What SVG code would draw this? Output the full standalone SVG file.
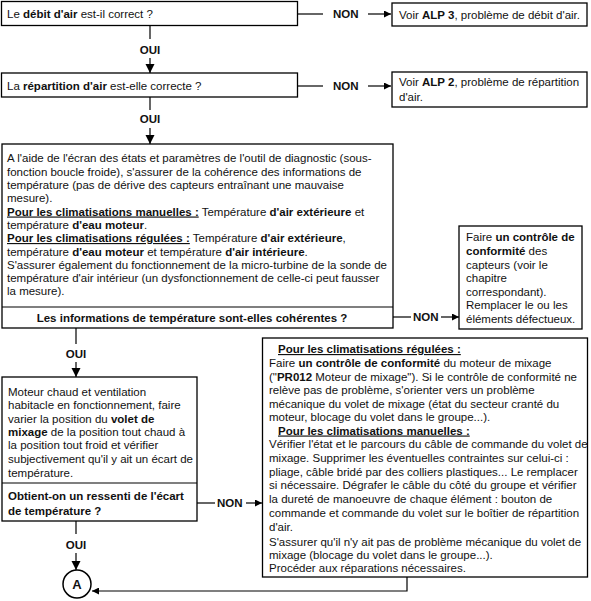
<svg xmlns="http://www.w3.org/2000/svg" width="591" height="601" viewBox="0 0 591 601">
<defs>
<style>
text{font-family:"Liberation Sans",Arial,sans-serif;font-size:11.5px;fill:#111}
.b{font-weight:bold}
.u{text-decoration:underline}
.box{fill:#fff;stroke:#000;stroke-width:1.3}
.ln{stroke:#000;stroke-width:1.2;fill:none}
.lbl{font-weight:bold;font-size:11.5px}
.mid{text-anchor:middle}
</style>
<marker id="av" markerUnits="userSpaceOnUse" markerWidth="9" markerHeight="11" refX="9" refY="4.5" orient="auto" viewBox="0 0 9 9"><path d="M0,0 L9,4.5 L0,9 z" fill="#000"/></marker>
<marker id="ah" markerUnits="userSpaceOnUse" markerWidth="7" markerHeight="7" refX="7" refY="3.5" orient="auto" viewBox="0 0 7 7"><path d="M0,0 L7,3.5 L0,7 z" fill="#000"/></marker>
</defs>
<rect width="591" height="601" fill="#fff"/>

<g id="connectors">
<line class="ln" x1="298" y1="14" x2="323" y2="14"/>
<text class="lbl" x="333" y="18">NON</text>
<line class="ln" x1="368" y1="14" x2="391" y2="14" marker-end="url(#ah)"/>
<line class="ln" x1="150" y1="25" x2="150" y2="39"/>
<text class="lbl mid" x="150" y="54">OUI</text>
<line class="ln" x1="150" y1="58" x2="150" y2="73" marker-end="url(#av)"/>
<line class="ln" x1="298" y1="86" x2="323" y2="86"/>
<text class="lbl" x="333" y="90">NON</text>
<line class="ln" x1="368" y1="86" x2="391" y2="86" marker-end="url(#ah)"/>
<line class="ln" x1="150" y1="97" x2="150" y2="110"/>
<text class="lbl mid" x="150" y="123">OUI</text>
<line class="ln" x1="150" y1="128" x2="150" y2="144" marker-end="url(#av)"/>
<line class="ln" x1="393" y1="317" x2="411" y2="317"/>
<text class="lbl" x="413" y="321">NON</text>
<line class="ln" x1="441" y1="317" x2="459" y2="317" marker-end="url(#ah)"/>
<line class="ln" x1="76" y1="328" x2="76" y2="344"/>
<text class="lbl mid" x="76" y="358">OUI</text>
<line class="ln" x1="76" y1="362" x2="76" y2="377" marker-end="url(#av)"/>
<line class="ln" x1="197" y1="503" x2="215" y2="503"/>
<text class="lbl" x="217" y="507">NON</text>
<line class="ln" x1="246" y1="503" x2="262" y2="503" marker-end="url(#ah)"/>
<line class="ln" x1="76" y1="521" x2="76" y2="534"/>
<text class="lbl mid" x="76" y="549">OUI</text>
<line class="ln" x1="76" y1="553" x2="76" y2="570" marker-end="url(#av)"/>
<polyline class="ln" points="407,577 407,591 92,591" marker-end="url(#ah)"/>
</g>

<g id="q-debit">
<rect class="box" x="1.5" y="1.5" width="296" height="24"/>
<text x="7" y="18">Le <tspan class="b">débit d'air</tspan> est-il correct ?</text>
</g>

<g id="alp3">
<rect class="box" x="392" y="3" width="195" height="23"/>
<text x="399" y="19">Voir <tspan class="b">ALP 3</tspan>, problème de débit d'air.</text>
</g>

<g id="q-repartition">
<rect class="box" x="1.5" y="73" width="296" height="24"/>
<text x="7" y="90">La <tspan class="b">répartition d'air</tspan> est-elle correcte ?</text>
</g>

<g id="alp2">
<rect class="box" x="392" y="72" width="195" height="35"/>
<text x="399" y="86">Voir <tspan class="b">ALP 2</tspan>, problème de répartition</text>
<text x="399" y="101">d'air.</text>
</g>

<g id="info-temp">
<rect class="box" x="2" y="144" width="391" height="184"/>
<line class="ln" x1="2" y1="307" x2="393" y2="307"/>
<text x="7" y="162">A l'aide de l'écran des états et paramètres de l'outil de diagnostic (sous-</text>
<text x="7" y="175.5">fonction boucle froide), s'assurer de la cohérence des informations de</text>
<text x="7" y="189">température (pas de dérive des capteurs entraînant une mauvaise</text>
<text x="7" y="202">mesure).</text>
<text x="7" y="215.5"><tspan class="b u">Pour les climatisations manuelles :</tspan> Température <tspan class="b">d'air extérieure</tspan> et</text>
<text x="7" y="229">température <tspan class="b">d'eau moteur</tspan>.</text>
<text x="7" y="242"><tspan class="b u">Pour les climatisations régulées :</tspan> Température <tspan class="b">d'air extérieure</tspan>,</text>
<text x="7" y="255.5">température <tspan class="b">d'eau moteur</tspan> et température <tspan class="b">d'air intérieure</tspan>.</text>
<text x="7" y="268.5">S'assurer également du fonctionnement de la micro-turbine de la sonde de</text>
<text x="7" y="281.5">température d'air intérieur (un dysfonctionnement de celle-ci peut fausser</text>
<text x="7" y="294.5">la mesure).</text>
<text class="b mid" x="192" y="322">Les informations de température sont-elles cohérentes ?</text>
</g>

<g id="controle-capteurs">
<rect class="box" x="459" y="226" width="123" height="103"/>
<text x="466" y="241">Faire <tspan class="b">un contrôle de</tspan></text>
<text x="466" y="255"><tspan class="b">conformité</tspan> des</text>
<text x="466" y="269">capteurs (voir le</text>
<text x="466" y="282">chapitre</text>
<text x="466" y="296">correspondant).</text>
<text x="466" y="309">Remplacer le ou les</text>
<text x="466" y="323">éléments défectueux.</text>
</g>

<g id="volet-mixage">
<rect class="box" x="2" y="377" width="195" height="144"/>
<line class="ln" x1="2" y1="483" x2="197" y2="483"/>
<text x="8" y="396">Moteur chaud et ventilation</text>
<text x="8" y="409">habitacle en fonctionnement, faire</text>
<text x="8" y="422.5">varier la position du <tspan class="b">volet de</tspan></text>
<text x="8" y="436"><tspan class="b">mixage</tspan> de la position tout chaud à</text>
<text x="8" y="449">la position tout froid et vérifier</text>
<text x="8" y="462.5">subjectivement qu'il y ait un écart de</text>
<text x="8" y="477">température.</text>
<text class="b" x="8" y="500">Obtient-on un ressenti de l'écart</text>
<text class="b" x="8" y="515">de température ?</text>
</g>

<g id="controle-moteur">
<rect class="box" x="262.5" y="338" width="325" height="239"/>
<text x="278" y="353"><tspan class="b u">Pour les climatisations régulées :</tspan></text>
<text x="269" y="367">Faire <tspan class="b">un contrôle de conformité</tspan> du moteur de mixage</text>
<text x="269" y="381">("<tspan class="b">PR012</tspan> Moteur de mixage"). Si le contrôle de conformité ne</text>
<text x="269" y="394">relève pas de problème, s'orienter vers un problème</text>
<text x="269" y="407.5">mécanique du volet de mixage (état du secteur cranté du</text>
<text x="269" y="421">moteur, blocage du volet dans le groupe...).</text>
<text x="278" y="434.5"><tspan class="b u">Pour les climatisations manuelles :</tspan></text>
<text x="269" y="448">Vérifier l'état et le parcours du câble de commande du volet de</text>
<text x="269" y="462">mixage. Supprimer les éventuelles contraintes sur celui-ci :</text>
<text x="269" y="476">pliage, câble bridé par des colliers plastiques... Le remplacer</text>
<text x="269" y="489">si nécessaire. Dégrafer le câble du côté du groupe et vérifier</text>
<text x="269" y="503">la dureté de manoeuvre de chaque élément : bouton de</text>
<text x="269" y="517">commande et commande du volet sur le boîtier de répartition</text>
<text x="269" y="531">d'air.</text>
<text x="269" y="546">S'assurer qu'il n'y ait pas de problème mécanique du volet de</text>
<text x="269" y="559">mixage (blocage du volet dans le groupe...).</text>
<text x="269" y="572">Procéder aux réparations nécessaires.</text>
</g>

<g id="connector-A">
<circle cx="77" cy="584" r="14" fill="#fff" stroke="#000" stroke-width="1.5"/>
<text class="b mid" x="77" y="589" style="font-size:13px">A</text>
</g>
</svg>
